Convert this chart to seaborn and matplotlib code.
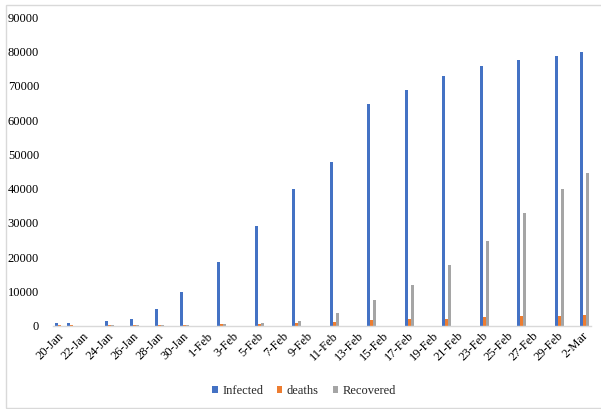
import matplotlib
matplotlib.use("Agg")
import matplotlib.pyplot as plt
import matplotlib.transforms as mtransforms
from matplotlib.patches import Rectangle
import numpy as np
import pandas as pd
import seaborn as sns

# Reported dates and cumulative counts
report_dates = ["20-Jan", "21-Jan", "24-Jan", "26-Jan", "28-Jan", "30-Jan",
                "2-Feb", "5-Feb", "8-Feb", "11-Feb", "14-Feb", "17-Feb",
                "20-Feb", "23-Feb", "26-Feb", "29-Feb", "2-Mar"]
infected = [700, 700, 1400, 2000, 4700, 9800,
            18500, 29000, 39900, 47800, 64800, 68800,
            72800, 75800, 77500, 78800, 79800]
deaths = [5, 6, 25, 50, 100, 170,
          300, 500, 800, 1100, 1500, 1800,
          2000, 2400, 2700, 2800, 3000]
recovered = [0, 0, 30, 50, 100, 150,
             350, 600, 1400, 3600, 7500, 11800,
             17700, 24700, 32800, 39900, 44500]
series_names = ["Infected", "deaths", "Recovered"]
series_colors = ["#4472C4", "#ED7D31", "#A5A5A5"]

# Daily date axis from first to last report
all_days = [f"{d.day}-{d.strftime('%b')}"
            for d in pd.date_range("2020-01-20", "2020-03-02", freq="D")]
tick_days = all_days[::2]

frames = []
for name, vals in zip(series_names, [infected, deaths, recovered]):
    frames.append(pd.DataFrame({"date": report_dates, "count": vals, "series": name}))
df = pd.concat(frames, ignore_index=True)

sns.set_theme(style="white")
plt.rcParams["font.family"] = ["Liberation Serif", "DejaVu Serif"]

W, H = 601, 409
fig = plt.figure(figsize=(W / 100, H / 100), dpi=100)
ax_left, ax_right = 53 / W, 590.5 / W
ax_bottom, ax_top = 1 - 325.5 / H, 1 - 17.3 / H
ax = fig.add_axes([ax_left, ax_bottom, ax_right - ax_left, ax_top - ax_bottom])

sns.barplot(data=df, x="date", y="count", hue="series", order=all_days,
            hue_order=series_names, palette=series_colors, width=0.72,
            gap=0, saturation=1, ax=ax, linewidth=0)

ax.set_xlim(-0.5, len(all_days) - 0.5)
ax.set_ylim(0, 90000)
ax.set_yticks(np.arange(0, 90001, 10000))
ax.set_yticklabels([str(v) for v in range(0, 90001, 10000)], fontsize=9)
ax.tick_params(axis="y", length=0, pad=10, colors="black")

tick_pos = [all_days.index(d) for d in tick_days]
ax.set_xticks(tick_pos)
ax.set_xticklabels(tick_days, rotation=45, ha="right", va="top",
                   rotation_mode="anchor", fontsize=9)
ax.tick_params(axis="x", which="major", length=0, pad=3, colors="black")
offset = mtransforms.ScaledTranslation(-2 / 100, 0, fig.dpi_scale_trans)
for lbl in ax.get_xticklabels():
    lbl.set_transform(lbl.get_transform() + offset)

# Separator marks between every second day
ax.set_xticks([p - 0.5 for p in tick_pos], minor=True)
ax.tick_params(axis="x", which="minor", length=4, width=0.8, color="#D9D9D9",
               direction="out")

ax.set_xlabel("")
ax.set_ylabel("")
for side in ["left", "right", "top"]:
    ax.spines[side].set_visible(False)
ax.spines["bottom"].set_color("#D9D9D9")
ax.spines["bottom"].set_linewidth(1)

sns.move_legend(ax, "center", bbox_to_anchor=(0.467, -0.212), ncol=3,
                frameon=False, title=None, fontsize=9,
                handlelength=0.45, handleheight=0.45, handletextpad=0.35,
                columnspacing=1.1)

# Chart area border
fig.patches.append(Rectangle((5.5 / W, 1.3 / H), 2, 1 - 6.3 / H,
                             transform=fig.transFigure, fill=False,
                             edgecolor="#D9D9D9", linewidth=1))

fig.savefig("out.png", dpi=100)
